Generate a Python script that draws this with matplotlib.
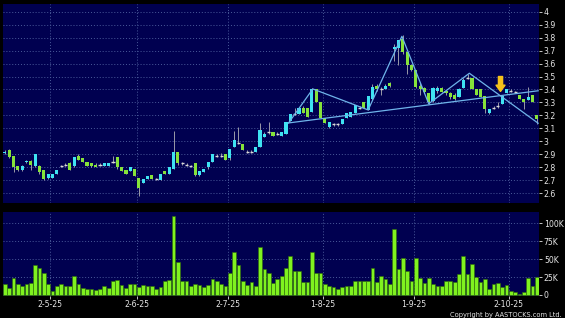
import numpy as np
import matplotlib
matplotlib.use("Agg")
import matplotlib.pyplot as plt

# ---------------- data ----------------
opens = [2.91, 2.93, 2.89, 2.81, 2.78, 2.84, 2.85, 2.81, 2.81, 2.78,
         2.72, 2.72, 2.75, 2.81, 2.82, 2.83, 2.81, 2.89, 2.87, 2.84,
         2.83, 2.82, 2.82, 2.81, 2.81, 2.84, 2.88, 2.80, 2.78, 2.77,
         2.79, 2.72, 2.68, 2.71, 2.74, 2.71, 2.70, 2.77, 2.75, 2.79,
         2.92, 2.83, 2.82, 2.81, 2.83, 2.74, 2.76, 2.80, 2.84, 2.89,
         2.89, 2.90, 2.87, 2.96, 2.99, 2.98, 2.92, 2.92, 2.92, 2.96,
         3.03, 3.07, 3.07, 3.06, 3.04, 3.06, 3.16, 3.21, 3.21, 3.26,
         3.26, 3.23, 3.40, 3.30, 3.18, 3.11, 3.13, 3.13, 3.13, 3.18,
         3.19, 3.22, 3.26, 3.30, 3.24, 3.33, 3.43, 3.40, 3.40, 3.45,
         3.71, 3.72, 3.79, 3.69, 3.59, 3.55, 3.43, 3.41, 3.37, 3.31,
         3.39, 3.41, 3.39, 3.37, 3.36, 3.34, 3.41, 3.49, 3.49, 3.40,
         3.40, 3.35, 3.22, 3.26, 3.27, 3.29, 3.37, 3.39, 3.38, 3.36,
         3.33, 3.32, 3.36, 3.20]
closes = [2.92, 2.88, 2.80, 2.78, 2.81, 2.85, 2.82, 2.90, 2.76, 2.71,
          2.75, 2.75, 2.78, 2.81, 2.82, 2.78, 2.88, 2.86, 2.84, 2.81,
          2.81, 2.80, 2.82, 2.83, 2.83, 2.84, 2.80, 2.77, 2.75, 2.80,
          2.73, 2.64, 2.71, 2.73, 2.71, 2.71, 2.75, 2.75, 2.80, 2.92,
          2.83, 2.83, 2.82, 2.81, 2.74, 2.77, 2.79, 2.84, 2.90, 2.89,
          2.89, 2.86, 2.94, 3.01, 2.99, 2.93, 2.92, 2.92, 2.96, 3.09,
          3.06, 3.07, 3.04, 3.06, 3.07, 3.15, 3.21, 3.21, 3.26, 3.22,
          3.19, 3.40, 3.30, 3.18, 3.14, 3.15, 3.13, 3.13, 3.17, 3.22,
          3.23, 3.28, 3.26, 3.26, 3.35, 3.42, 3.40, 3.40, 3.43, 3.43,
          3.73, 3.78, 3.69, 3.59, 3.55, 3.42, 3.40, 3.38, 3.30, 3.41,
          3.41, 3.38, 3.37, 3.34, 3.33, 3.40, 3.47, 3.49, 3.40, 3.36,
          3.34, 3.25, 3.25, 3.26, 3.27, 3.35, 3.40, 3.39, 3.38, 3.33,
          3.30, 3.34, 3.30, 3.17]
highs = [2.93, 2.94, 2.89, 2.81, 2.82, 2.86, 2.86, 2.90, 2.82, 2.78,
         2.75, 2.75, 2.78, 2.82, 2.83, 2.84, 2.88, 2.90, 2.87, 2.84,
         2.83, 2.83, 2.83, 2.83, 2.83, 2.89, 2.88, 2.80, 2.78, 2.80,
         2.79, 2.72, 2.71, 2.73, 2.74, 2.72, 2.75, 2.77, 2.80, 3.08,
         2.92, 2.84, 2.83, 2.82, 2.83, 2.77, 2.79, 2.84, 2.90, 2.90,
         2.91, 2.90, 2.94, 3.08, 3.11, 2.98, 2.93, 2.93, 2.96, 3.14,
         3.07, 3.15, 3.07, 3.07, 3.07, 3.15, 3.21, 3.26, 3.26, 3.27,
         3.26, 3.41, 3.40, 3.30, 3.18, 3.15, 3.14, 3.14, 3.17, 3.22,
         3.23, 3.28, 3.27, 3.30, 3.35, 3.44, 3.44, 3.42, 3.44, 3.46,
         3.75, 3.78, 3.82, 3.69, 3.60, 3.55, 3.45, 3.42, 3.37, 3.42,
         3.43, 3.42, 3.39, 3.38, 3.37, 3.41, 3.49, 3.52, 3.49, 3.40,
         3.40, 3.35, 3.25, 3.27, 3.30, 3.35, 3.40, 3.40, 3.39, 3.36,
         3.33, 3.42, 3.36, 3.20]
lows = [2.90, 2.87, 2.76, 2.77, 2.77, 2.83, 2.78, 2.80, 2.75, 2.70,
        2.71, 2.72, 2.75, 2.80, 2.81, 2.78, 2.80, 2.86, 2.84, 2.81,
        2.80, 2.80, 2.81, 2.81, 2.81, 2.83, 2.79, 2.77, 2.75, 2.77,
        2.73, 2.58, 2.68, 2.71, 2.71, 2.70, 2.70, 2.75, 2.75, 2.79,
        2.82, 2.82, 2.81, 2.80, 2.73, 2.73, 2.76, 2.79, 2.84, 2.88,
        2.88, 2.86, 2.86, 2.96, 2.98, 2.93, 2.91, 2.91, 2.92, 2.96,
        3.03, 3.06, 3.04, 3.05, 3.04, 3.06, 3.16, 3.20, 3.21, 3.22,
        3.19, 3.23, 3.30, 3.18, 3.14, 3.10, 3.12, 3.12, 3.13, 3.18,
        3.19, 3.22, 3.25, 3.26, 3.24, 3.32, 3.39, 3.36, 3.40, 3.42,
        3.62, 3.59, 3.67, 3.52, 3.54, 3.41, 3.36, 3.37, 3.29, 3.30,
        3.37, 3.38, 3.36, 3.33, 3.32, 3.34, 3.41, 3.48, 3.40, 3.36,
        3.34, 3.22, 3.21, 3.25, 3.26, 3.29, 3.37, 3.38, 3.37, 3.33,
        3.25, 3.32, 3.30, 3.13]
volumes_k = [16, 10, 23, 15, 12, 15, 17, 42, 37, 30,
             15, 6, 13, 15, 12, 13, 26, 15, 10, 8,
             9, 7, 9, 13, 10, 19, 21, 14, 10, 15,
             15, 11, 14, 12, 13, 9, 11, 20, 21, 110,
             46, 19, 20, 13, 16, 14, 11, 14, 22, 20,
             16, 13, 30, 60, 42, 20, 14, 18, 13, 67,
             36, 30, 17, 22, 26, 38, 54, 34, 33, 18,
             18, 60, 30, 31, 15, 13, 11, 8, 11, 12,
             12, 20, 20, 19, 19, 38, 18, 26, 22, 15,
             92, 36, 52, 33, 19, 51, 24, 17, 24, 15,
             13, 12, 19, 20, 18, 29, 54, 29, 43, 25,
             18, 22, 9, 15, 17, 11, 14, 6, 4, 2,
             4, 24, 13, 25]

date_labels = ['2-5-25', '2-6-25', '2-7-25', '1-8-25', '1-9-25', '2-10-25']
date_index = [11, 31, 52, 74, 95, 117]

price_ticks = [4.0, 3.9, 3.8, 3.7, 3.6, 3.5, 3.4, 3.3, 3.2, 3.1, 3.0, 2.9, 2.8, 2.7, 2.6]
price_tick_labels = ['4', '3.9', '3.8', '3.7', '3.6', '3.5', '3.4', '3.3', '3.2', '3.1',
                     '3', '2.9', '2.8', '2.7', '2.6']
vol_ticks_k = [0, 25, 50, 75, 100]
vol_tick_labels = ['0', '25K', '50K', '75K', '100K']

# trend-line annotations (index, price)
zigzag_idx = [65.6, 71.2, 84.0, 91.8, 98.0, 107.4, 123.3]
zigzag_price = [3.142, 3.404, 3.242, 3.810, 3.290, 3.525, 3.140]
support_idx = [65.6, 123.3]
support_price = [3.142, 3.390]
arrow_idx = 114.6
arrow_price = [3.50, 3.385]

# ---------------- style ----------------
W, H = 565, 318
BG = '#000000'
PANEL = '#000050'
GRID = '#4a5a9a'
TXT = '#e6e6e6'
UP = '#3fe3f2'
DOWN = '#86e33a'
WICK = '#9a9aa8'
DOJI = '#d8d8d8'
LINE = '#6fb4ea'

fig = plt.figure(figsize=(W / 100, H / 100), dpi=100, facecolor=BG)

def px_axes(left, top, right, bottom):
    return fig.add_axes([left / W, 1 - bottom / H, (right - left) / W, (bottom - top) / H])

ax = px_axes(2.7, 4.0, 539.0, 202.7)
axv = px_axes(2.7, 211.7, 539.0, 295.7)

n = len(opens)
x = np.arange(n)
o = np.array(opens); c = np.array(closes); h = np.array(highs); l = np.array(lows)

for a in (ax, axv):
    a.set_facecolor(PANEL)
    a.set_xlim(-0.5, n - 0.5)
    for s in a.spines.values():
        s.set_visible(False)

grid_x = np.array(date_index) - 0.5

# price panel
ax.set_ylim(2.527, 4.059)
for gx in grid_x:
    ax.axvline(gx, color=GRID, lw=0.7, ls=(0, (1, 2)), zorder=0)
for t in price_ticks:
    ax.axhline(t, color=GRID, lw=0.7, ls=(0, (1, 2)), zorder=0)

ax.vlines(x, l, h, color=WICK, lw=0.7, zorder=2)
up = c > o
dn = c < o
eq = c == o
bw = 0.72
ax.bar(x[up], (c - o)[up], bottom=o[up], width=bw, color=UP, edgecolor='none', zorder=3)
ax.bar(x[dn], (o - c)[dn], bottom=c[dn], width=bw, color=DOWN, edgecolor='none', zorder=3)
ax.hlines(c[eq], x[eq] - bw / 2, x[eq] + bw / 2, color=DOJI, lw=1.0, zorder=3)

ax.plot(zigzag_idx, zigzag_price, color=LINE, lw=0.9, zorder=4)
ax.plot(support_idx, support_price, color=LINE, lw=0.9, zorder=4)
ax.annotate('', xy=(arrow_idx, arrow_price[1]), xytext=(arrow_idx, arrow_price[0]),
            arrowprops=dict(arrowstyle='simple,head_width=0.65,head_length=0.45,tail_width=0.3',
                            fc='#f5c21b', ec='#f5c21b', mutation_scale=10, shrinkA=0, shrinkB=0),
            zorder=5)

ax.yaxis.tick_right()
ax.set_yticks(price_ticks)
ax.set_yticklabels(price_tick_labels)
ax.tick_params(axis='y', colors=TXT, labelsize=5.6, length=2, width=0.6, pad=1.5)
ax.set_xticks([])

# volume panel
axv.set_ylim(-1, 116.2)
for gx in grid_x:
    axv.axvline(gx, color=GRID, lw=0.7, ls=(0, (1, 2)), zorder=0)
for t in vol_ticks_k[1:]:
    axv.axhline(t, color=GRID, lw=0.7, ls=(0, (1, 2)), zorder=0)
axv.bar(x, volumes_k, width=0.86, color='#7ff21f', edgecolor='#2f6a08', linewidth=0.4, zorder=2)
axv.yaxis.tick_right()
axv.set_yticks(vol_ticks_k)
axv.set_yticklabels(vol_tick_labels)
axv.tick_params(axis='y', colors=TXT, labelsize=5.6, length=2, width=0.6, pad=1.5)
axv.set_xticks(grid_x)
axv.set_xticklabels(date_labels)
axv.tick_params(axis='x', colors=TXT, labelsize=5.6, length=2, width=0.6, pad=1.2)

fig.text(562 / W, 1 - 314.5 / H, 'Copyright by AASTOCKS.com Ltd.', color=TXT,
         fontsize=4.8, ha='right', va='center')

fig.savefig('out.png', dpi=100, facecolor=BG)
